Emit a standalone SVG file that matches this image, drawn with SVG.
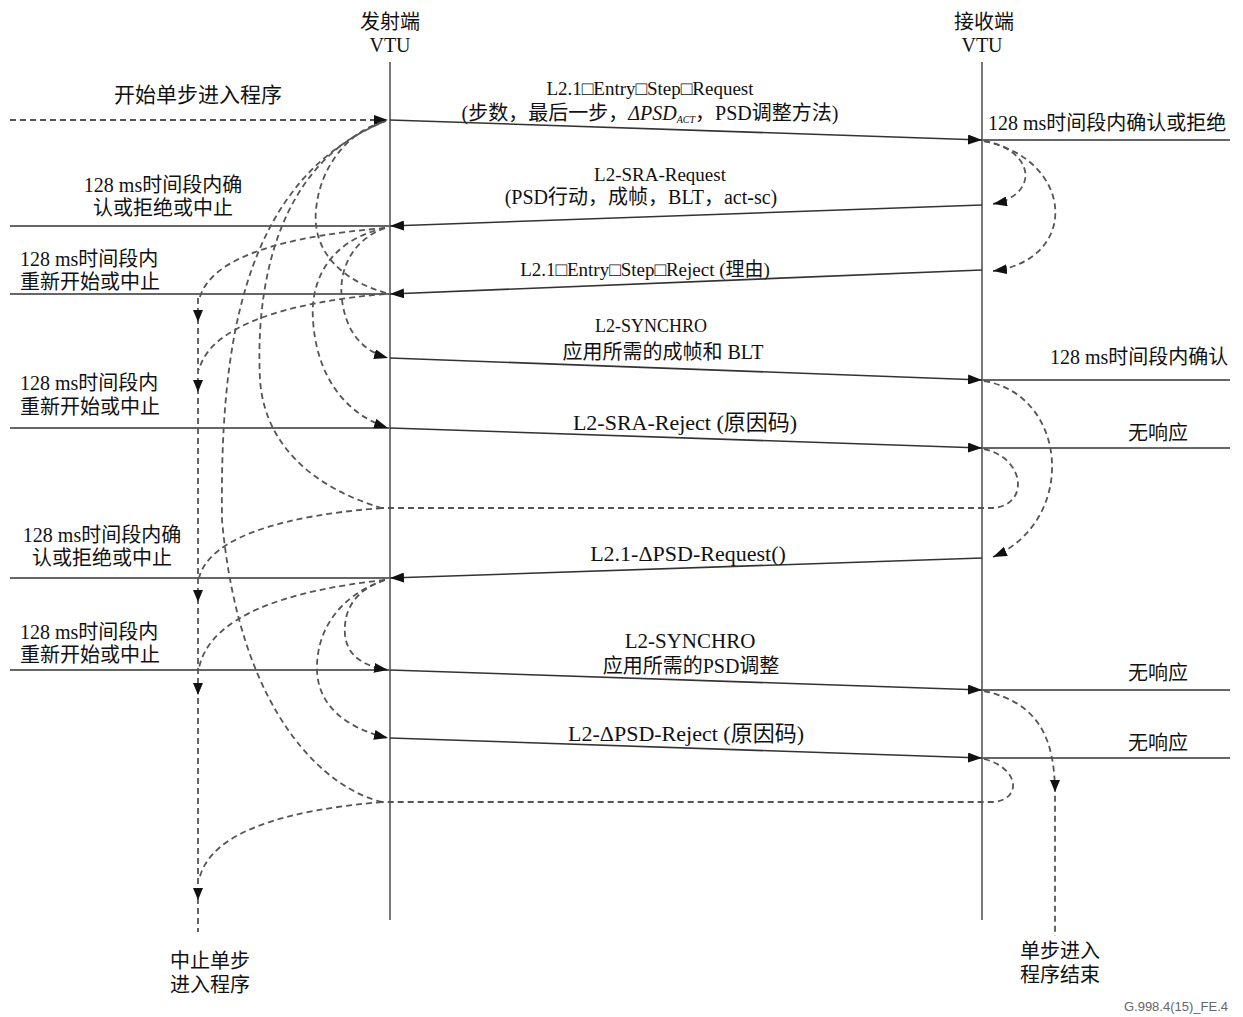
<svg xmlns="http://www.w3.org/2000/svg" width="1243" height="1017" viewBox="0 0 1243 1017">
<style>
.t{font-family:"Liberation Serif","Noto Sans CJK SC",serif;font-size:20px;fill:#111}
.c{text-anchor:middle}
.s{font-size:19px}
.xs{font-size:18px}
.m{font-size:21px}
.l{font-size:22px}
.life{stroke:#777;stroke-width:2;fill:none}
.msg{stroke:#333;stroke-width:1.6;fill:none}
.side{stroke:#666;stroke-width:2;fill:none}
.dash{stroke:#555;stroke-width:1.8;stroke-dasharray:6 4;fill:none}
.foot{font-family:"Liberation Sans",Arial,sans-serif;font-size:13px;fill:#666;text-anchor:end}
</style>
<defs>
<marker id="ah" markerUnits="userSpaceOnUse" markerWidth="14" markerHeight="10" refX="14" refY="5" orient="auto"><path d="M0,0 L14,5 L0,10 z" fill="#111"/></marker>
<path id="down" d="M-5,-12 L5,-12 L0,0 z" fill="#111"/>
</defs>
<rect width="1243" height="1017" fill="#fff"/>

<g id="tx">
<text class="t c" x="390" y="29">发射端</text>
<text class="t c" x="390" y="52">VTU</text>
<line class="life" x1="390" y1="62" x2="390" y2="920"/>
</g>
<g id="rx">
<text class="t c" x="984" y="29">接收端</text>
<text class="t c" x="982" y="52">VTU</text>
<line class="life" x1="982" y1="62" x2="982" y2="920"/>
</g>

<g id="connectors">
<line class="msg" x1="390" y1="120" x2="982" y2="140" marker-end="url(#ah)"/>
<line class="msg" x1="982" y1="205" x2="390" y2="226" marker-end="url(#ah)"/>
<line class="msg" x1="982" y1="270" x2="390" y2="294" marker-end="url(#ah)"/>
<line class="msg" x1="390" y1="358" x2="982" y2="380" marker-end="url(#ah)"/>
<line class="msg" x1="390" y1="428" x2="982" y2="448" marker-end="url(#ah)"/>
<line class="msg" x1="982" y1="558" x2="390" y2="578" marker-end="url(#ah)"/>
<line class="msg" x1="390" y1="670" x2="982" y2="690" marker-end="url(#ah)"/>
<line class="msg" x1="390" y1="738" x2="982" y2="758" marker-end="url(#ah)"/>
<line class="side" x1="10" y1="226" x2="390" y2="226"/>
<line class="side" x1="10" y1="294" x2="390" y2="294"/>
<line class="side" x1="10" y1="428" x2="390" y2="428"/>
<line class="side" x1="10" y1="578" x2="390" y2="578"/>
<line class="side" x1="10" y1="670" x2="390" y2="670"/>
<line class="side" x1="982" y1="140" x2="1230" y2="140"/>
<line class="side" x1="982" y1="380" x2="1230" y2="380"/>
<line class="side" x1="982" y1="448" x2="1230" y2="448"/>
<line class="side" x1="982" y1="690" x2="1230" y2="690"/>
<line class="side" x1="982" y1="758" x2="1230" y2="758"/>
<path class="dash" d="M10,120 L388,120" marker-end="url(#ah)"/>
<path class="dash" d="M386,293 C340,280 312,250 316,210 C320,165 350,130 386,121"/>
<path class="dash" d="M382,508 C320,490 265,450 260,380 C255,280 280,160 386,121"/>
<path class="dash" d="M382,802 C330,790 240,720 222,520 C220,350 240,180 386,121"/>
<path class="dash" d="M385,228 C330,240 310,280 313,320 C316,370 340,412 388,428" marker-end="url(#ah)"/>
<path class="dash" d="M385,228 C352,240 338,270 342,300 C346,330 360,350 388,358" marker-end="url(#ah)"/>
<path class="dash" d="M385,580 C355,590 343,610 345,635 C347,655 362,666 388,670" marker-end="url(#ah)"/>
<path class="dash" d="M385,580 C340,595 316,630 317,670 C318,705 345,728 388,738" marker-end="url(#ah)"/>
<path class="dash" d="M385,228 C290,236 210,255 199,300"/>
<path class="dash" d="M385,294 C290,302 210,325 199,370"/>
<path class="dash" d="M382,508 C290,515 210,535 199,578"/>
<path class="dash" d="M385,580 C290,590 210,615 199,668"/>
<path class="dash" d="M382,802 C290,810 210,830 199,880"/>
<line class="dash" x1="198" y1="298" x2="198" y2="932"/>
<use href="#down" x="198" y="322"/>
<use href="#down" x="198" y="392"/>
<use href="#down" x="198" y="602"/>
<use href="#down" x="198" y="695"/>
<use href="#down" x="198" y="900"/>
<path class="dash" d="M984,141 C1035,150 1040,195 993,204" marker-end="url(#ah)"/>
<path class="dash" d="M984,141 C1075,160 1080,260 993,271" marker-end="url(#ah)"/>
<path class="dash" d="M984,381 C1068,395 1078,520 993,557" marker-end="url(#ah)"/>
<path class="dash" d="M984,449 C1025,458 1030,505 993,508 L378,508"/>
<path class="dash" d="M984,691 C1040,703 1054,740 1055,790 L1055,936"/>
<use href="#down" x="1055" y="792"/>
<path class="dash" d="M984,759 C1020,768 1022,800 993,802 L378,802"/>
</g>

<g id="labels">
<text class="t c m" x="198" y="102">开始单步进入程序</text>
<text class="t c s" x="650" y="95">L2.1□Entry□Step□Request</text>
<text class="t c" x="650" y="120">(步数，最后一步，<tspan font-style="italic">ΔPSD</tspan><tspan font-style="italic" font-size="10" dy="3">ACT</tspan><tspan dy="-3">，PSD调整方法)</tspan></text>
<text class="t c s" x="660" y="181">L2-SRA-Request</text>
<text class="t c" x="641" y="204">(PSD行动，成帧，BLT，act-sc)</text>
<text class="t c s" x="645" y="276">L2.1□Entry□Step□Reject (理由)</text>
<text class="t c xs" x="651" y="332">L2-SYNCHRO</text>
<text class="t c" x="663" y="359">应用所需的成帧和 BLT</text>
<text class="t c l" x="685" y="430">L2-SRA-Reject (原因码)</text>
<text class="t c l" x="688" y="561">L2.1-ΔPSD-Request()</text>
<text class="t c m" x="690" y="648">L2-SYNCHRO</text>
<text class="t c" x="691" y="673">应用所需的PSD调整</text>
<text class="t c l" x="686" y="741">L2-ΔPSD-Reject (原因码)</text>

<text class="t c" x="163" y="192">128 ms时间段内确</text>
<text class="t c" x="163" y="215">认或拒绝或中止</text>
<text class="t" x="20" y="266">128 ms时间段内</text>
<text class="t" x="20" y="289">重新开始或中止</text>
<text class="t" x="20" y="390">128 ms时间段内</text>
<text class="t" x="20" y="414">重新开始或中止</text>
<text class="t c" x="102" y="542">128 ms时间段内确</text>
<text class="t c" x="102" y="565">认或拒绝或中止</text>
<text class="t" x="20" y="639">128 ms时间段内</text>
<text class="t" x="20" y="662">重新开始或中止</text>

<text class="t" x="988" y="130" font-size="20.6">128 ms时间段内确认或拒绝</text>
<text class="t" x="1050" y="364">128 ms时间段内确认</text>
<text class="t c" x="1158" y="440">无响应</text>
<text class="t c" x="1158" y="680">无响应</text>
<text class="t c" x="1158" y="750">无响应</text>

<text class="t c" x="210" y="968">中止单步</text>
<text class="t c" x="210" y="992">进入程序</text>
<text class="t c" x="1060" y="958">单步进入</text>
<text class="t c" x="1060" y="982">程序结束</text>
<text class="foot" x="1228" y="1011">G.998.4(15)_FE.4</text>
</g>
</svg>
